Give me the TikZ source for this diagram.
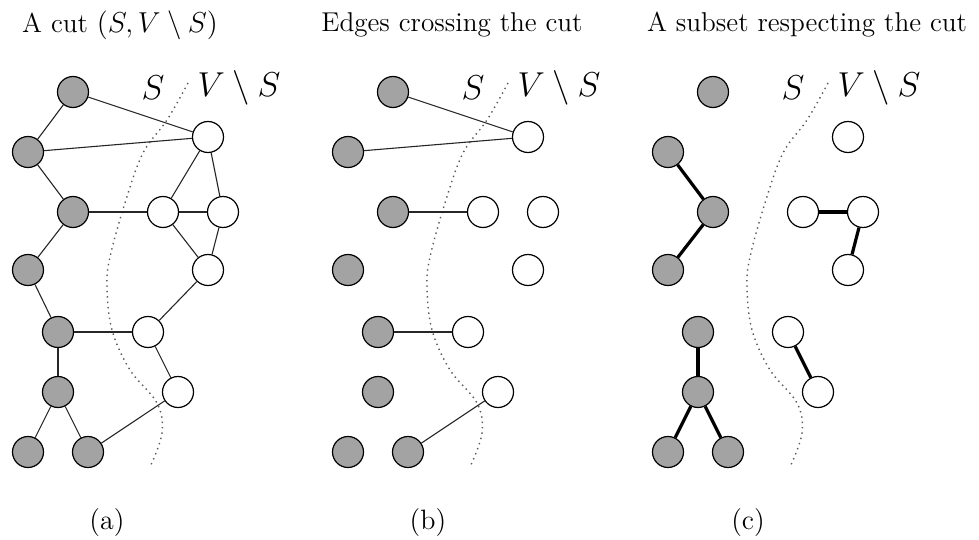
\documentclass[tikz,border=0pt]{standalone}
\usetikzlibrary{positioning}
\tikzset{
  insnode/.style  = {circle, draw=black, fill=black!36, line width=0.6pt, minimum size=15.5pt, inner sep=0pt},
  outnode/.style  = {circle, draw=black, fill=white, line width=0.6pt, minimum size=15.5pt, inner sep=0pt},
  edgeline/.style = {line width=0.55pt, black!85},
  keepline/.style = {line width=1.6pt, black},
  cutline/.style  = {dotted, line width=0.7pt, black!65},
  ttl/.style      = {font=\fontsize{13.6}{16}\selectfont},
  sidelbl/.style  = {font=\fontsize{16.5}{19}\selectfont},
  sublbl/.style   = {font=\fontsize{14}{17}\selectfont},
}
\begin{document}
\begin{tikzpicture}[x=0.5pt,y=-0.5pt]
  \useasboundingbox (0,0) rectangle (979,540);
  % the same vertices in all three panels
  \foreach \p/\dx in {a/0, b/320, c/640} {
    \begin{scope}[xshift=\dx*0.5pt]
      \draw[cutline] plot[smooth, tension=0.6] coordinates {(188,83) (167,120) (143,153) (125,203) (110,257) (107,287) (112,330) (130,370) (157,403) (162,433) (150,467)};
      \node[sidelbl] (\p S)  at (153,88) {$S$};
      \node[sidelbl] (\p VS) at (239,88) {$V\setminus S$};
      \node[insnode] (\p g1) at (73,92)  {};
      \node[insnode] (\p g2) at (28,152) {};
      \node[insnode] (\p g3) at (73,212) {};
      \node[insnode] (\p g4) at (28,270) {};
      \node[insnode] (\p g5) at (58,332) {};
      \node[insnode] (\p g6) at (58,392) {};
      \node[insnode] (\p g7) at (28,452) {};
      \node[insnode] (\p g8) at (88,452) {};
      \node[outnode] (\p w1) at (208,137) {};
      \node[outnode] (\p w2) at (163,212) {};
      \node[outnode] (\p w3) at (223,212) {};
      \node[outnode] (\p w4) at (208,270) {};
      \node[outnode] (\p w5) at (148,332) {};
      \node[outnode] (\p w6) at (178,392) {};
    \end{scope}
  }
  % titles and captions
  \node[ttl] (ta) at (120,25) {A cut $(S,V\setminus S)$};
  \node[ttl] (tb) at (452,25) {Edges crossing the cut};
  \node[ttl] (tc) at (807,25) {A subset respecting the cut};
  \node[sublbl] (ca) at (107,523) {(a)};
  \node[sublbl] (cb) at (428,523) {(b)};
  \node[sublbl] (cc) at (748,523) {(c)};
  % (a) the whole graph
  \foreach \u/\v in {g1/g2, g1/w1, g2/w1, g2/g3, g3/w2, g3/g4, w1/w2, w1/w3, w2/w3, w2/w4,
                     w3/w4, g4/g5, w4/w5, g5/w5, g5/g6, g6/g7, g6/g8, g8/w6, w5/w6}
    \draw[edgeline] (a\u) -- (a\v);
  % (b) only the crossing edges
  \foreach \u/\v in {g1/w1, g2/w1, g3/w2, g5/w5, g8/w6}
    \draw[edgeline] (b\u) -- (b\v);
  % (c) edges that stay on one side
  \foreach \u/\v in {g2/g3, g3/g4, g5/g6, g6/g7, g6/g8, w2/w3, w3/w4, w5/w6}
    \draw[keepline] (c\u) -- (c\v);
\end{tikzpicture}
\end{document}
